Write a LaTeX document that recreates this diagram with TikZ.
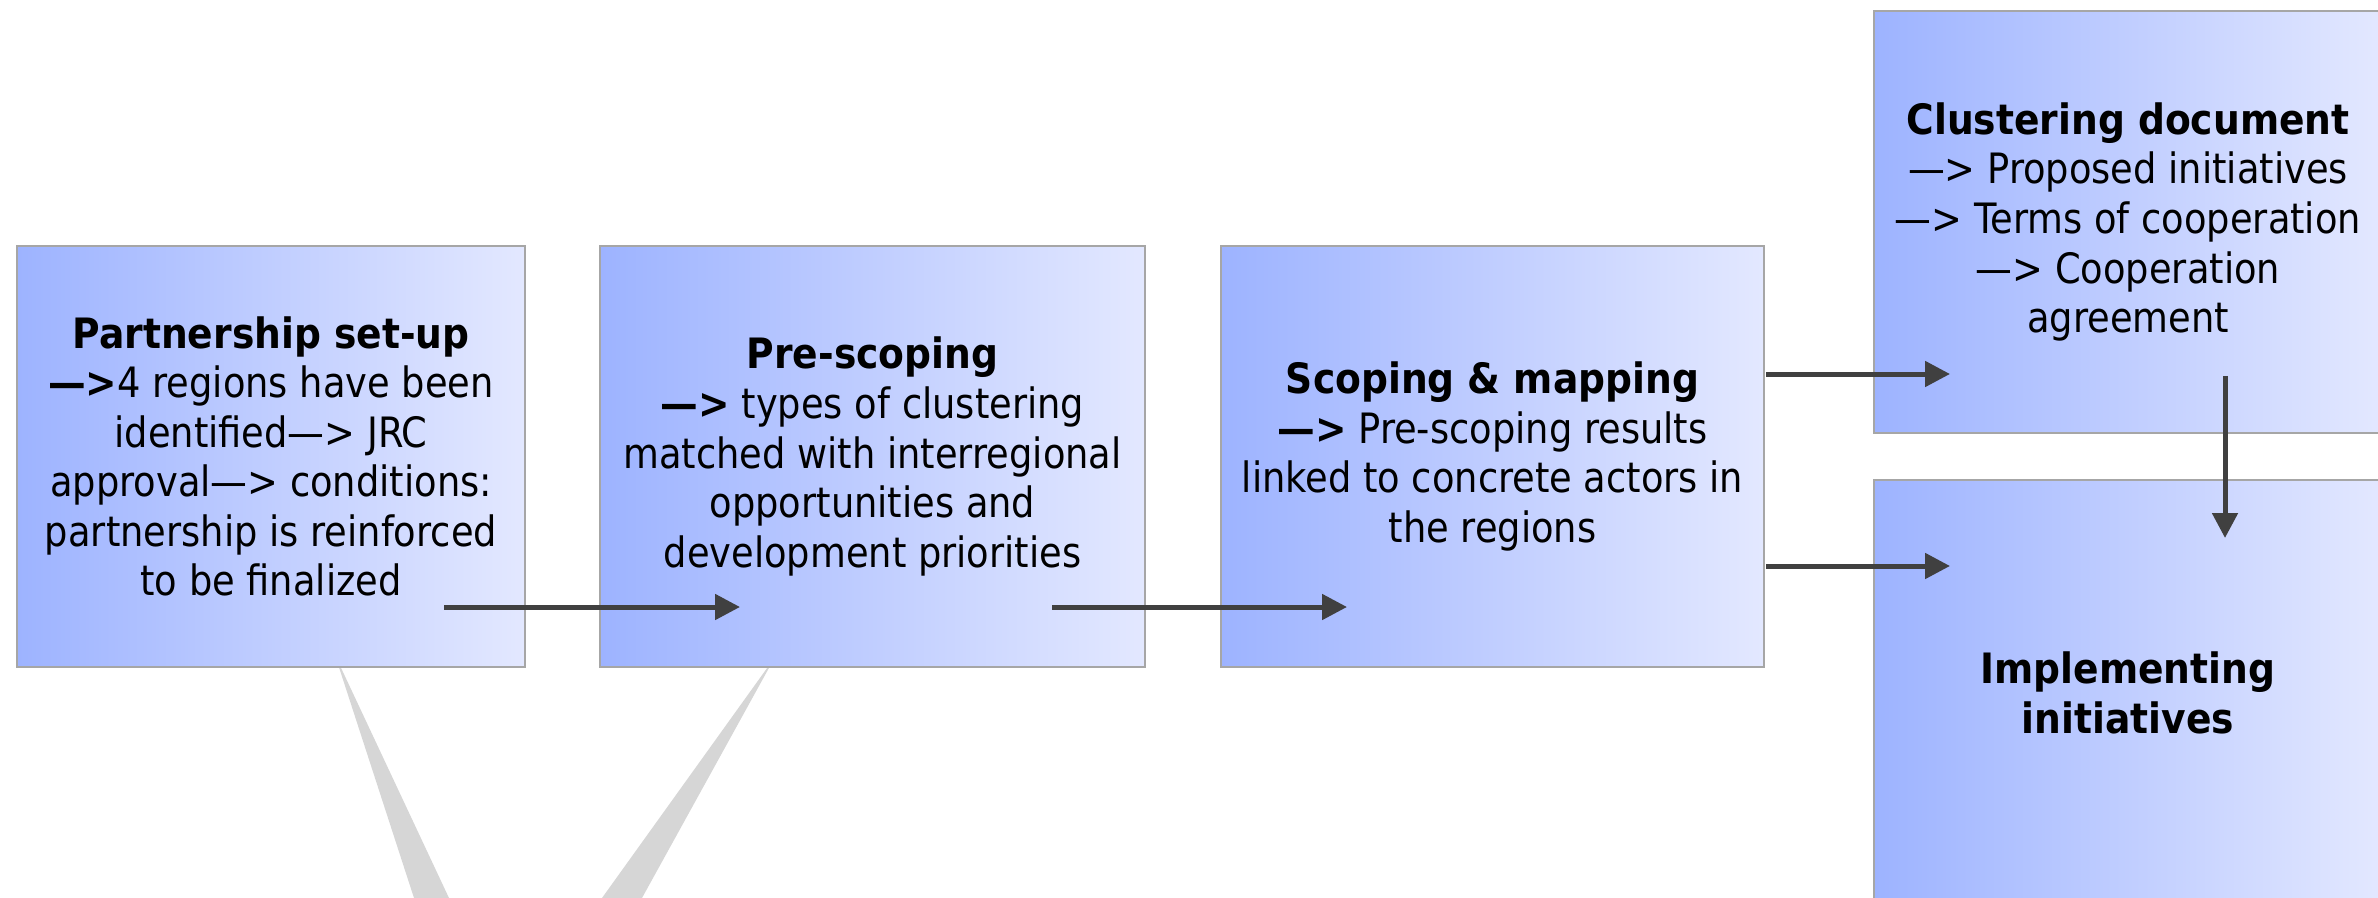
\documentclass[tikz,border=0pt]{standalone}
\usepackage{fontspec}
\setmainfont{DejaVu Sans}[UprightFeatures={FakeStretch=0.88},BoldFeatures={FakeStretch=0.90}]
\usetikzlibrary{arrows.meta}

\definecolor{stageleft}{HTML}{9DB3FF}
\definecolor{stageright}{HTML}{E3E8FF}
\definecolor{stageline}{HTML}{A6A6A6}
\definecolor{flowgray}{HTML}{404040}
\definecolor{wedgegray}{HTML}{D6D6D6}

\tikzset{
  stage/.style={draw=stageline, line width=0.025cm, left color=stageleft, right color=stageright,
    align=center, inner sep=0pt, font=\fontsize{11.9}{14.1}\selectfont},
  flow/.style={draw=flowgray, line width=0.05cm, -{Triangle[length=0.25cm,width=0.25cm]}},
  wedge/.style={fill=wedgegray, draw=none}
}

\begin{document}
\begin{tikzpicture}

\useasboundingbox (0,0) rectangle (23.78,-8.98);
\clip (0,0) rectangle (23.78,-8.98);

\fill[wedge] (3.35,-6.55) -- (4.14,-8.98) -- (4.49,-8.98) -- cycle;
\fill[wedge] (7.75,-6.57) -- (6.02,-8.98) -- (6.42,-8.98) -- cycle;

\node[stage, minimum width=5.08cm, minimum height=4.21cm] (part) at (2.71,-4.565)
  {\textbf{Partnership set-up}\\\textbf{—>}4 regions have been\\identified—> JRC\\approval—> conditions:\\partnership is reinforced\\to be finalized};
\node[stage, minimum width=5.45cm, minimum height=4.21cm] (presc) at (8.725,-4.565)
  {\textbf{Pre-scoping}\\\textbf{—>} types of clustering\\matched with interregional\\opportunities and\\development priorities};
\node[stage, minimum width=5.43cm, minimum height=4.21cm] (scope) at (14.925,-4.565)
  {\textbf{Scoping \& mapping}\\\textbf{—>} Pre-scoping results\\linked to concrete actors in\\the regions};
\node[stage, minimum width=5.08cm, minimum height=4.22cm] (clust) at (21.28,-2.22)
  {\textbf{Clustering document}\\—> Proposed initiatives\\—> Terms of cooperation\\—> Cooperation\\agreement};
\node[stage, minimum width=5.08cm, minimum height=4.26cm] (impl) at (21.28,-6.93)
  {\textbf{Implementing}\\\textbf{initiatives}};

\coordinate (p1) at (4.44,-6.07);
\coordinate (q1) at (7.40,-6.07);
\coordinate (p2) at (10.52,-6.07);
\coordinate (q2) at (13.47,-6.07);
\coordinate (p3) at (17.66,-3.74);
\coordinate (q3) at (19.50,-3.74);
\coordinate (p4) at (17.66,-5.66);
\coordinate (q4) at (19.50,-5.66);
\coordinate (p5) at (22.25,-3.76);
\coordinate (q5) at (22.25,-5.38);

\draw[flow] (p1) -- (q1);
\draw[flow] (p2) -- (q2);
\draw[flow] (p3) -- (q3);
\draw[flow] (p4) -- (q4);
\draw[flow] (p5) -- (q5);

\end{tikzpicture}
\end{document}
